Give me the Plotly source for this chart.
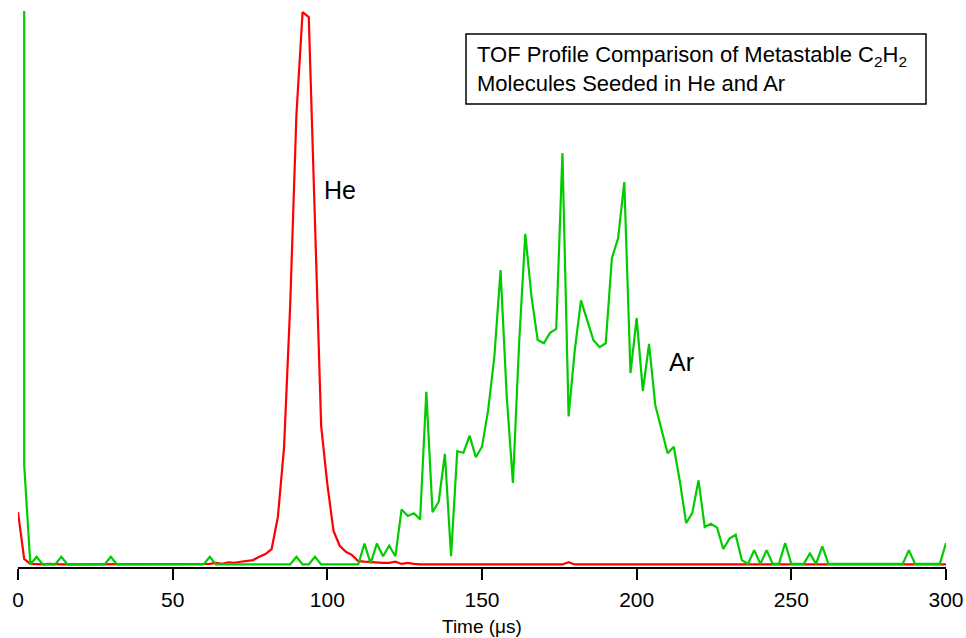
import plotly.graph_objects as go

# ---------------- data ----------------
# He-seeded (red) TOF profile, time in microseconds
he_t = [0, 2, 4, 6, 8, 10, 12, 14, 16, 18, 20, 22, 24, 26, 28, 30, 32, 34, 36, 38,
        40, 42, 44, 46, 48, 50, 52, 54, 56, 58, 60, 62, 64, 66, 68, 70, 72, 74, 76, 78,
        80, 82, 84, 86, 88, 90, 92, 94, 96, 98, 100, 102, 104, 106, 108, 110, 112, 114,
        116, 118, 120, 122, 124, 126, 128, 130, 140, 150, 160, 170, 176, 178, 180, 190,
        200, 220, 240, 260, 280, 300]
he_v = [9.6, 1.1, 0.2, 0.1, 0.1, 0.2, 0.1, 0.1, 0.1, 0.1, 0.1, 0.1, 0.1, 0.1, 0.1, 0.1, 0.1, 0.1, 0.1, 0.1,
        0.1, 0.1, 0.1, 0.1, 0.2, 0.1, 0.1, 0.1, 0.1, 0.1, 0.1, 0.2, 0.4, 0.2, 0.5, 0.4, 0.6, 0.7, 0.9, 1.5,
        2.0, 2.9, 8.7, 21.3, 47.3, 81.8, 100.5, 99.6, 62.7, 25.3, 14.7, 6.2, 3.5, 2.4, 1.8, 0.7, 0.6, 0.5,
        0.4, 0.4, 0.4, 0.6, 0.2, 0.4, 0.2, 0.1, 0.1, 0.1, 0.1, 0.1, 0.1, 0.5, 0.1, 0.1,
        0.1, 0.1, 0.1, 0.1, 0.1, 0.1]

# Ar-seeded (green) TOF profile
ar_t = [2, 2, 4, 6, 8, 10, 12, 14, 16, 18, 20, 22, 24, 26, 28, 30, 32, 34, 36, 38,
        40, 42, 44, 46, 48, 50, 52, 54, 56, 58, 60, 62, 64, 66, 68, 70, 72, 74, 76, 78,
        80, 82, 84, 86, 88, 90, 92, 94, 96, 98, 100, 102, 104, 106, 108, 110, 112, 114,
        116, 118, 120, 122, 124, 126, 128, 130, 132, 134, 136, 138, 140, 142, 144, 146,
        148, 150, 152, 154, 156, 158, 160, 162, 164, 166, 168, 170, 172, 174, 176, 178,
        180, 182, 184, 186, 188, 190, 192, 194, 196, 198, 200, 202, 204, 206, 208, 210,
        212, 214, 216, 218, 220, 222, 224, 226, 228, 230, 232, 234, 236, 238, 240, 242,
        244, 246, 248, 250, 252, 254, 256, 258, 260, 262, 264, 266, 268, 270, 272, 274,
        276, 278, 280, 282, 284, 286, 288, 290, 292, 294, 296, 298, 300]
ar_v = [160, 18.2, 0.1, 1.5, 0.1, 0.1, 0.1, 1.5, 0.1, 0.1, 0.1, 0.1, 0.1, 0.1, 0.1, 1.5, 0.1, 0.1, 0.1, 0.1,
        0.1, 0.1, 0.1, 0.1, 0.1, 0.1, 0.1, 0.1, 0.1, 0.1, 0.1, 1.5, 0.1, 0.1, 0.1, 0.1, 0.1, 0.1, 0.1, 0.1,
        0.1, 0.1, 0.1, 0.1, 0.1, 1.5, 0.1, 0.1, 1.5, 0.1, 0.1, 0.1, 0.1, 0.1, 0.1, 0.1, 3.9, 0.3,
        3.9, 1.6, 3.5, 1.6, 10.1, 8.9, 9.4, 8.3, 31.5, 9.6, 11.5, 20.2, 1.6, 20.7, 20.4, 23.5,
        19.6, 21.5, 28.2, 37.9, 53.6, 30.6, 14.9, 40.3, 60.2, 48.8, 40.9, 40.3, 42.2, 42.9, 74.9, 27.0,
        39.1, 48.1, 44.5, 40.9, 39.6, 40.3, 55.8, 59.4, 69.6, 34.9, 44.9, 31.6, 40.2, 29.1, 24.7, 20.3,
        21.5, 15.1, 7.6, 9.5, 15.4, 6.9, 7.5, 6.8, 2.9, 4.8, 5.5, 0.9, 0.2, 2.7, 0.2, 2.7,
        0.2, 0.2, 4.0, 0.2, 0.2, 0.2, 2.1, 0.2, 3.4, 0.2, 0.2, 0.2, 0.2, 0.2, 0.2, 0.2,
        0.2, 0.2, 0.2, 0.2, 0.2, 0.2, 2.7, 0.2, 0.2, 0.2, 0.2, 0.2, 4.0]

x_ticks = [0, 50, 100, 150, 200, 250, 300]
x_range = [0, 300]
y_range = [-0.36, 100.7]

FONT = "Arial, Liberation Sans, sans-serif"

fig = go.Figure()
fig.add_trace(go.Scatter(x=he_t, y=he_v, mode="lines", name="He",
                         line=dict(color="#ff0000", width=2.2)))
fig.add_trace(go.Scatter(x=ar_t, y=ar_v, mode="lines", name="Ar",
                         line=dict(color="#00cc00", width=2.2)))

fig.add_annotation(x=104, y=68.2, text="He", showarrow=False,
                   font=dict(family=FONT, size=25, color="black"))
fig.add_annotation(x=214.5, y=36.9, text="Ar", showarrow=False,
                   font=dict(family=FONT, size=25, color="black"))

# caption box
fig.add_shape(type="rect", xref="paper", yref="paper",
              x0=(466 - 18) / 928, x1=(926 - 18) / 928,
              y0=(567 - 104) / 556, y1=(567 - 34) / 556,
              line=dict(color="black", width=1.5), fillcolor="white", layer="above")
fig.add_annotation(xref="paper", yref="paper", x=(475 - 18) / 928, y=(567 - 56) / 556,
                   xanchor="left", yanchor="middle", showarrow=False,
                   text="TOF Profile Comparison of Metastable C<sub>2</sub>H<sub>2</sub>",
                   font=dict(family=FONT, size=22, color="black"))
fig.add_annotation(xref="paper", yref="paper", x=(475 - 18) / 928, y=(567 - 84) / 556,
                   xanchor="left", yanchor="middle", showarrow=False,
                   text="Molecules Seeded in He and Ar",
                   font=dict(family=FONT, size=22, color="black"))

# axis title
fig.add_annotation(xref="paper", yref="paper", x=0.5, y=-(626 - 567) / 556,
                   xanchor="center", yanchor="middle", showarrow=False,
                   text="Time (μs)", font=dict(family=FONT, size=19, color="black"))

fig.update_layout(
    width=966, height=638,
    margin=dict(l=18, r=20, t=11, b=71, autoexpand=False),
    paper_bgcolor="white", plot_bgcolor="white",
    showlegend=False,
    font=dict(family=FONT, size=22, color="black"),
)
fig.update_xaxes(range=x_range, tickvals=x_ticks, ticks="outside", ticklen=11,
                 tickwidth=1.5, tickcolor="black", showline=True, linecolor="black",
                 linewidth=1.5, showgrid=False, zeroline=False, automargin=False,
                 ticklabelstandoff=2,
                 tickfont=dict(family=FONT, size=21, color="black"))
fig.update_yaxes(range=y_range, visible=False, showgrid=False, zeroline=False,
                 automargin=False)

fig.write_html("out.html")
